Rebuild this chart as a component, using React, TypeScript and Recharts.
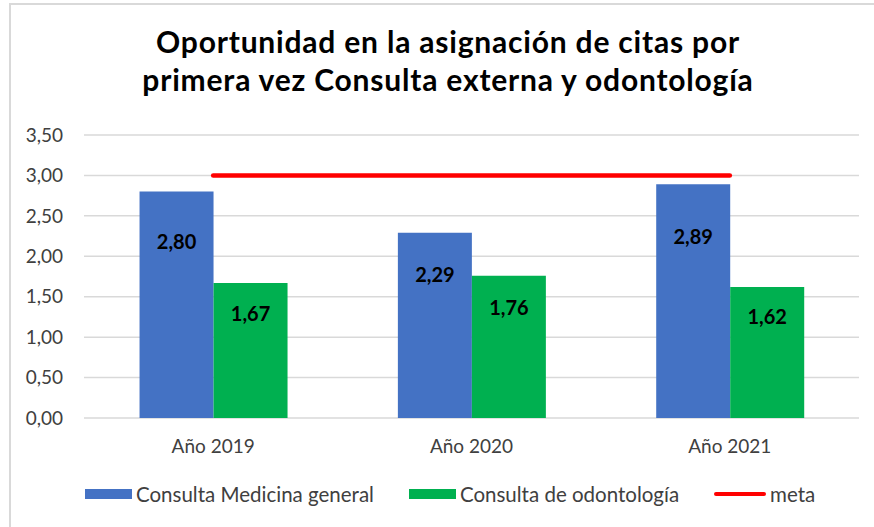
import React from "react"
import { Bar, CartesianGrid, ComposedChart, LabelList, Legend, Line, XAxis, YAxis } from "recharts"

const categories = ["Año 2019", "Año 2020", "Año 2021"]
const medicinaGeneral = [2.8, 2.29, 2.89]
const odontologia = [1.67, 1.76, 1.62]
const meta = [3, 3, 3]
const yTicks = [0, 0.5, 1, 1.5, 2, 2.5, 3, 3.5]

const titleLines = [
    "Oportunidad en la asignación de citas por",
    "primera vez Consulta externa y odontología",
]

const data = categories.map((name, i) => ({
    name,
    medicina: medicinaGeneral[i],
    odonto: odontologia[i],
    meta: meta[i],
}))

const FONT = "Lato, 'Open Sans', sans-serif"

const fmt = (v: number) => v.toFixed(2).replace(".", ",")

const BarValue = (props: any) => {
    const { x, y, width, height, value } = props
    return (
        <text
            x={x + width / 2}
            y={y + height * 0.22}
            textAnchor="middle"
            dominantBaseline="central"
            fontFamily={FONT}
            fontWeight={700}
            fontSize={20}
            fill="#000"
        >
            {fmt(value)}
        </text>
    )
}

const legendItems = [
    { label: "Consulta Medicina general", color: "#4472C4", kind: "rect" },
    { label: "Consulta de odontología", color: "#00B050", kind: "rect" },
    { label: "meta", color: "#FF0000", kind: "line" },
]

const ChartLegend = () => (
    <div style={{ height: 24, display: "flex", alignItems: "center", paddingLeft: 85 }}>
        {legendItems.map((item, i) => (
            <div key={item.label} style={{ display: "flex", alignItems: "center", marginRight: i < 2 ? 35 : 0 }}>
                {item.kind === "rect" ? (
                    <span style={{ width: 47, height: 10, background: item.color, display: "inline-block" }} />
                ) : (
                    <span style={{ width: 52, height: 4, borderRadius: 2, background: item.color, display: "inline-block" }} />
                )}
                <span style={{ marginLeft: 4, fontSize: 20.5, color: "#404040", fontFamily: FONT }}>{item.label}</span>
            </div>
        ))}
    </div>
)

const App = () => {
    return (
        <div style={{ position: "absolute", left: 0, top: 0, width: 874, height: 527, overflow: "hidden", background: "#fff" }}>
            <div
                style={{
                    position: "absolute",
                    left: 9,
                    top: 3,
                    width: 900,
                    height: 600,
                    border: "2px solid #d9d9d9",
                }}
            />
            <div
                style={{
                    position: "absolute",
                    left: 0,
                    top: 22,
                    width: 896,
                    textAlign: "center",
                    fontFamily: FONT,
                    fontWeight: 700,
                    fontSize: 30,
                    letterSpacing: 0.8,
                    lineHeight: "38px",
                    color: "#000",
                }}
            >
                {titleLines.map((l) => (
                    <div key={l}>{l}</div>
                ))}
            </div>
            <div style={{ position: "absolute", left: 0, top: 0 }}>
                <ComposedChart
                    width={874}
                    height={527}
                    data={data}
                    barCategoryGap="21.5%"
                    barGap={0}
                    margin={{ top: 135, right: 15, bottom: 21, left: 0 }}
                >
                    <CartesianGrid vertical={false} stroke="#d9d9d9" strokeWidth={1.5} />
                    <XAxis
                        dataKey="name"
                        axisLine={false}
                        tickLine={false}
                        tickSize={0}
                        tickMargin={22}
                        height={64}
                        tick={{ fontFamily: FONT, fontSize: 19, fill: "#404040" }}
                    />
                    <YAxis
                        domain={[0, 3.5]}
                        ticks={yTicks}
                        axisLine={false}
                        tickLine={false}
                        tickSize={0}
                        tickMargin={21}
                        width={84}
                        tickFormatter={fmt}
                        tick={{ fontFamily: FONT, fontSize: 19, fill: "#404040" }}
                    />
                    <Legend verticalAlign="bottom" content={() => <ChartLegend />} />
                    <Bar dataKey="medicina" name="Consulta Medicina general" fill="#4472C4" isAnimationActive={false}>
                        <LabelList dataKey="medicina" content={BarValue} />
                    </Bar>
                    <Bar dataKey="odonto" name="Consulta de odontología" fill="#00B050" isAnimationActive={false}>
                        <LabelList dataKey="odonto" content={BarValue} />
                    </Bar>
                    <Line
                        dataKey="meta"
                        name="meta"
                        stroke="#FF0000"
                        strokeWidth={4.5}
                        strokeLinecap="round"
                        dot={false}
                        activeDot={false}
                        isAnimationActive={false}
                    />
                </ComposedChart>
            </div>
        </div>
    )
}

export default App
